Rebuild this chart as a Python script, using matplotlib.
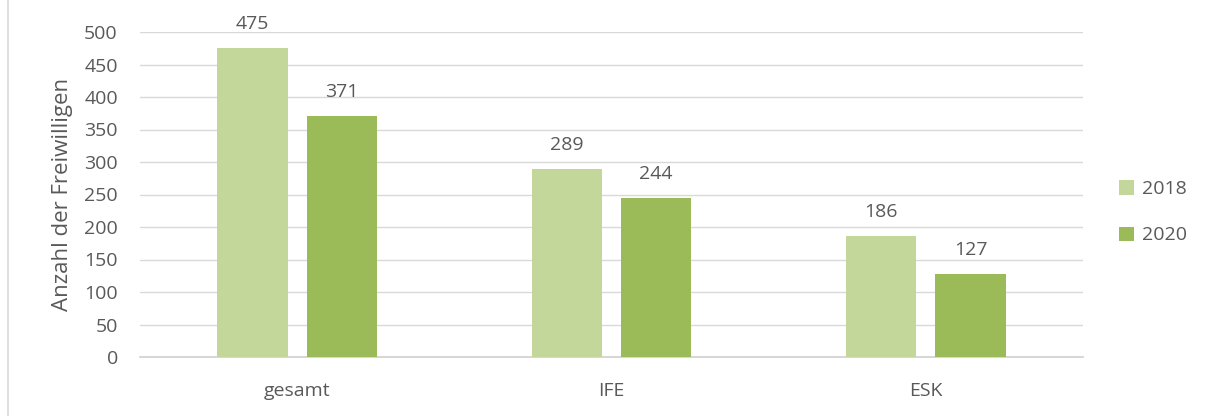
import matplotlib.pyplot as plt
import numpy as np
from matplotlib.lines import Line2D

# --- data ---
categories = ["gesamt", "IFE", "ESK"]
years = ["2018", "2020"]
values_2018 = [475, 289, 186]
values_2020 = [371, 244, 127]

colors = ["#C4D79B", "#9BBB59"]
text_col = "#595959"

plt.rcParams["font.family"] = ["Open Sans", "DejaVu Sans"]

fig = plt.figure(figsize=(12.11, 4.16), dpi=100)
ax = fig.add_axes([140 / 1211, 1 - 357 / 416, (1083 - 140) / 1211, (357 - 32) / 416])

x = np.arange(len(categories))
w = 0.223
off = 0.142
b1 = ax.bar(x - off, values_2018, w, color=colors[0], label=years[0], zorder=3)
b2 = ax.bar(x + off, values_2020, w, color=colors[1], label=years[1], zorder=3)

for bars in (b1, b2):
    for r in bars:
        ax.annotate(f"{int(r.get_height())}", (r.get_x() + r.get_width() / 2, r.get_height()),
                    xytext=(0, 11), textcoords="offset points", ha="center", va="bottom",
                    fontsize=14, color=text_col)

ax.set_xlim(-0.5, 2.5)
ax.set_ylim(0, 500)
ax.set_yticks(range(0, 501, 50))
ax.set_xticks(x)
ax.set_xticklabels(categories)
ax.tick_params(axis="both", length=0, labelsize=14, labelcolor=text_col)
ax.tick_params(axis="y", pad=16)
ax.tick_params(axis="x", pad=18)
ax.yaxis.grid(True, color="#D9D9D9", linewidth=1, zorder=0)
for s in ["top", "right", "left"]:
    ax.spines[s].set_visible(False)
ax.spines["bottom"].set_color("#D0D0D0")
ax.spines["bottom"].set_linewidth(1.2)
ax.set_ylabel("Anzahl der Freiwilligen", fontsize=16, color=text_col, labelpad=8)

leg = ax.legend(loc="center left", bbox_to_anchor=(1.02, 0.445), frameon=False,
                fontsize=14, handlelength=0.75, handleheight=0.75, labelspacing=1.45,
                handletextpad=0.4)
for t in leg.get_texts():
    t.set_color(text_col)

# light border line at left edge
fig.add_artist(Line2D([8 / 1211, 8 / 1211], [0, 1], transform=fig.transFigure,
                      color="#D9D9D9", linewidth=1.2))

fig.savefig("out.png", dpi=100)
